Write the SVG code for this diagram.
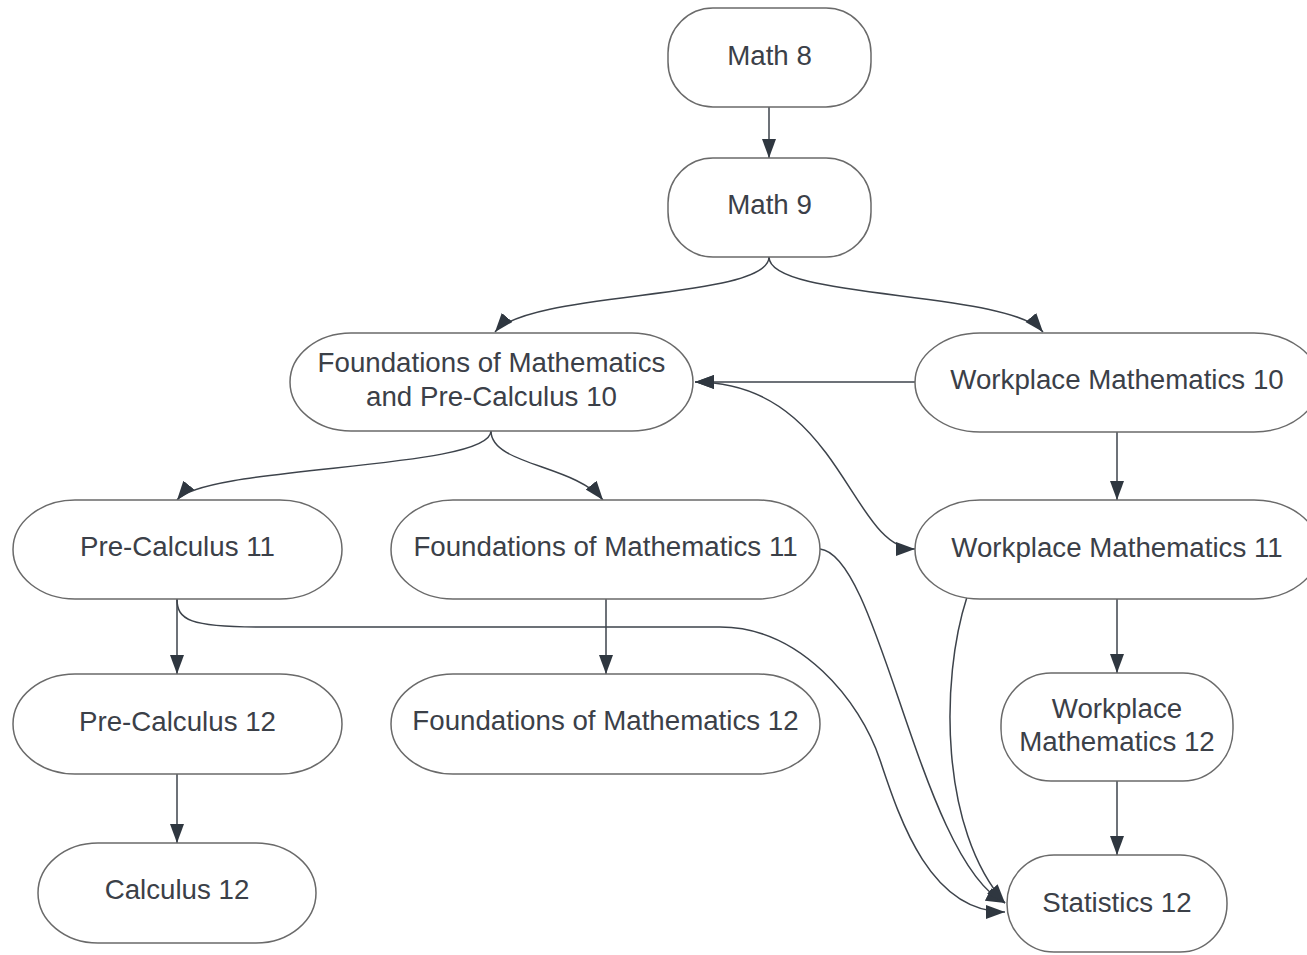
<svg xmlns="http://www.w3.org/2000/svg" width="1307" height="955" viewBox="0 0 1307 955">
<defs>
<style>
.node{fill:#ffffff;stroke:#6a6a6a;stroke-width:1.5}
.lbl{font-family:"Liberation Sans",Arial,sans-serif;font-size:27.7px;fill:#3b4048;text-anchor:middle}
.edge{fill:none;stroke:#3d434b;stroke-width:1.5}
.arr{marker-end:url(#ah)}
</style>
<marker id="ah" markerUnits="userSpaceOnUse" markerWidth="20" markerHeight="15" refX="19" refY="7" orient="auto-start-reverse">
<path d="M0,0 L19,7 L0,14 z" fill="#2f3740"/>
</marker>
</defs>
<rect width="1307" height="955" fill="#ffffff"/>
<g id="connectors">
<path class="edge arr" d="M769,107 V158"/>
<path class="edge arr" d="M769,257 C769,300 530,290 495,332"/>
<path class="edge arr" d="M769,257 C769,300 1008,290 1043,332"/>
<path class="edge arr" d="M915,382 H695"/>
<path class="edge arr" d="M695,382 C840,382 850,549 915,549" marker-start="url(#ah)"/>
<path class="edge arr" d="M491,431 C491,470 205,465 177,500"/>
<path class="edge arr" d="M491,431 C491,465 575,465 603,500"/>
<path class="edge arr" d="M177,599 V674"/>
<path class="edge arr" d="M177,774 V843"/>
<path class="edge arr" d="M606,599 V674"/>
<path class="edge arr" d="M1117,432 V500"/>
<path class="edge arr" d="M1117,599 V673"/>
<path class="edge arr" d="M1117,781 V855"/>
<path class="edge arr" d="M820,549 C880,555 920,860 1005,903"/>
<path class="edge arr" d="M967,597 C940,680 940,830 1005,903"/>
<path class="edge arr" d="M177,599 C177,620 190,627 260,627 L720,627 C800,627 860,700 880,760 C900,820 930,912 1005,912"/>
</g>
<g id="math8"><rect class="node" x="668" y="8" width="203" height="99" rx="45" ry="45"/><text class="lbl" x="769.5" y="65">Math 8</text></g>
<g id="math9"><rect class="node" x="668" y="158" width="203" height="99" rx="45" ry="45"/><text class="lbl" x="769.5" y="214">Math 9</text></g>
<g id="fpc10"><rect class="node" x="290" y="333" width="403" height="98" rx="61" ry="49"/><text class="lbl" x="491.5" y="372">Foundations of Mathematics</text><text class="lbl" x="491.5" y="406">and Pre-Calculus 10</text></g>
<g id="wm10"><rect class="node" x="915" y="333" width="404" height="99" rx="65" ry="49.5"/><text class="lbl" x="1117" y="389">Workplace Mathematics 10</text></g>
<g id="pc11"><rect class="node" x="13" y="500" width="329" height="99" rx="62" ry="49.5"/><text class="lbl" x="177.5" y="556">Pre-Calculus 11</text></g>
<g id="fm11"><rect class="node" x="391" y="500" width="429" height="99" rx="62" ry="49.5"/><text class="lbl" x="605.5" y="556">Foundations of Mathematics 11</text></g>
<g id="wm11"><rect class="node" x="915" y="500" width="404" height="99" rx="65" ry="49.5"/><text class="lbl" x="1117" y="557">Workplace Mathematics 11</text></g>
<g id="pc12"><rect class="node" x="13" y="674" width="329" height="100" rx="62" ry="50"/><text class="lbl" x="177.5" y="731">Pre-Calculus 12</text></g>
<g id="fm12"><rect class="node" x="391" y="674" width="429" height="100" rx="62" ry="50"/><text class="lbl" x="605.5" y="730">Foundations of Mathematics 12</text></g>
<g id="wm12"><rect class="node" x="1001" y="673" width="232" height="108" rx="50" ry="52"/><text class="lbl" x="1117" y="718">Workplace</text><text class="lbl" x="1117" y="751">Mathematics 12</text></g>
<g id="calc12"><rect class="node" x="38" y="843" width="278" height="100" rx="60" ry="50"/><text class="lbl" x="177" y="899">Calculus 12</text></g>
<g id="stats12"><rect class="node" x="1007" y="855" width="220" height="97" rx="47" ry="48"/><text class="lbl" x="1117" y="912">Statistics 12</text></g>
</svg>
